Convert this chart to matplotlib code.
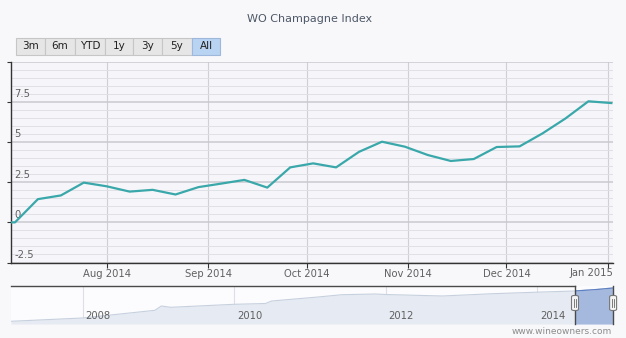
import matplotlib
matplotlib.use('Agg')
import matplotlib.pyplot as plt
import matplotlib.dates as mdates
from matplotlib.patches import FancyBboxPatch, Rectangle
from matplotlib.lines import Line2D
from matplotlib.ticker import MultipleLocator, FixedLocator
from matplotlib.transforms import blended_transform_factory, offset_copy
import pandas as pd

W, H = 626, 338

title = 'WO Champagne Index'
buttons = ['3m', '6m', 'YTD', '1y', '3y', '5y', 'All']
selected_button = 'All'

# weekly index (% change), Fridays from end of June 2014
week_dates = pd.date_range('2014-06-27', periods=28, freq='7D')
index_values = [0.0, 0.0, 1.45, 1.68, 2.48, 2.25, 1.92, 2.03, 1.74, 2.2,
                2.42, 2.65, 2.17, 3.43, 3.68, 3.43, 4.4, 5.03, 4.72, 4.2,
                3.83, 3.95, 4.7, 4.74, 5.55, 6.48, 7.55, 7.44]
y_ticks = [-2.5, 0, 2.5, 5, 7.5, 10]
y_labels = ['-2.5', '0', '2.5', '5', '7.5', '']
month_ticks = pd.to_datetime(['2014-08-01', '2014-09-01', '2014-10-01',
                              '2014-11-01', '2014-12-01', '2015-01-01'])
month_labels = ['Aug 2014', 'Sep 2014', 'Oct 2014', 'Nov 2014', 'Dec 2014',
                'Jan 2015']

# full history shown in the navigator
nav_dates = pd.to_datetime(['2007-01-20', '2008-01-01', '2008-12-15', '2009-01-15',
                            '2009-03-01', '2010-01-01', '2010-06-01', '2010-07-01',
                            '2011-02-10', '2011-06-05', '2011-11-15', '2012-01-01',
                            '2012-10-01', '2013-06-01', '2014-01-25', '2014-07-01',
                            '2014-10-15', '2015-01-02'])
nav_values = [2.7, 6.0, 13.7, 18.0, 16.7, 19.7, 20.5, 23.0, 27.0, 29.3, 30.0,
              29.5, 28.0, 30.3, 32.0, 33.0, 34.5, 36.0]
nav_years = ['2008', '2010', '2012', '2014']

view_start = pd.Timestamp('2014-07-02 19:00')
view_end = pd.Timestamp('2015-01-02 12:00')

line_color = '#3aa8aa'
text_color = '#606060'


def px_box(x0, y0, x1, y1):
    # pixel box (top-left origin) -> figure fraction [l, b, w, h]
    return [x0 / W, (H - y1) / H, (x1 - x0) / W, (y1 - y0) / H]


fig = plt.figure(figsize=(W / 100, H / 100), dpi=100, facecolor='#f8f8fb')

fig.text(310 / W, 1 - 19 / H, title, ha='center', va='center',
         fontsize=8, color='#4d5866')

# range selector buttons
bx = [16, 45, 75, 105, 133, 162, 192, 220]
for i, lab in enumerate(buttons):
    sel = lab == selected_button
    l, b, w, h = px_box(bx[i], 37.5, bx[i + 1], 55)
    fig.patches.append(Rectangle((l, b), w, h, transform=fig.transFigure,
                                 facecolor='#b9d3f2' if sel else '#e6e6e6',
                                 edgecolor='#9db8da' if sel else '#c6c6c6',
                                 lw=0.8))
    fig.text(l + w / 2, b + h / 2, lab, ha='center', va='center',
             fontsize=7.5, color='#222222')

# main chart
ax = fig.add_axes(px_box(11, 62, 613, 262.5), facecolor='#f6f6fa')
ax.plot(week_dates, index_values, color=line_color, lw=1.6,
        solid_joinstyle='round', zorder=5)
ax.set_xlim(view_start, view_end)
ax.set_ylim(-2.5, 10)

# last month label is pulled inside the plot edge
ax.set_xticks(month_ticks, month_labels[:-1] + [''])
ax.annotate(month_labels[-1], (month_ticks[-1], 0),
            xycoords=('data', 'axes fraction'), xytext=(3.8, -7.2),
            textcoords='offset points', ha='right', va='center',
            fontsize=7.2, color=text_color)
ax.yaxis.set_major_locator(FixedLocator(y_ticks))
ax.yaxis.set_minor_locator(MultipleLocator(0.5))

ax.grid(axis='y', which='minor', color='#e0e0e7', lw=0.7)
ax.grid(axis='y', which='major', color='#c9c9cf', lw=1.1)
ax.grid(axis='x', which='major', color='#d0d0d4', lw=0.8)
ax.set_axisbelow(True)

for s in ['top', 'right']:
    ax.spines[s].set_visible(False)
for s in ['left', 'bottom']:
    ax.spines[s].set_color('#333333')
    ax.spines[s].set_linewidth(1.0)

ax.tick_params(axis='x', which='major', length=3.6, color='#333333',
               labelsize=7.2, labelcolor=text_color, pad=1)
ax.tick_params(axis='y', which='major', length=3, color='#333333', labelleft=False)
ax.tick_params(axis='both', which='minor', length=0)

# y labels sit inside the plot, just above their grid line
ylab_tr = offset_copy(blended_transform_factory(ax.transAxes, ax.transData),
                      fig=fig, x=2.5, y=2, units='points')
for v, lab in zip(y_ticks, y_labels):
    ax.text(0, v, lab, transform=ylab_tr, ha='left', va='bottom',
            fontsize=7.2, color=text_color)

# navigator
nav = fig.add_axes(px_box(10.8, 286, 613, 324), facecolor='#fcfcfe')
nav.set_xlim(pd.Timestamp('2007-01-20'), pd.Timestamp('2015-01-02'))
nav.set_ylim(0, 38)
nav.fill_between(nav_dates, nav_values, 0, color='#e6eaf2', lw=0)
nav.plot(nav_dates, nav_values, color='#c6d0de', lw=0.8)

clip = Rectangle((mdates.date2num(view_start), 0),
                 mdates.date2num(view_end) - mdates.date2num(view_start), 100,
                 transform=nav.transData)
sel_fill = nav.fill_between(nav_dates, nav_values, 0, color='#a5b9df', lw=0)
sel_fill.set_clip_path(clip)
sel_line, = nav.plot(nav_dates, nav_values, color='#5f81c2', lw=0.9)
sel_line.set_clip_path(clip)

nav.set_xticks([])
nav.set_yticks([])
for s in nav.spines.values():
    s.set_visible(False)

for yr in nav_years:
    d = pd.Timestamp(yr + '-01-01')
    nav.axvline(d, color='#dedee6', lw=0.8, zorder=0)
    nav.annotate(yr, (d, 0.21), xycoords=('data', 'axes fraction'),
                 xytext=(2, 0), textcoords='offset points', ha='left',
                 va='center', fontsize=7.2, color=text_color)

# navigator outline and handles
top_tr = blended_transform_factory(nav.transData, nav.transAxes)
nav.add_line(Line2D([nav.get_xlim()[0], mdates.date2num(view_start)], [1, 1],
                    transform=top_tr, color='#4a4a4a', lw=1.0, clip_on=False))
for d in [view_start, view_end]:
    nav.add_line(Line2D([mdates.date2num(d)] * 2, [0, 1], transform=top_tr,
                        color='#4a4a4a', lw=1.0, clip_on=False))
    xd = nav.transData.transform((mdates.date2num(d), 0))[0]
    cx = xd / W
    hw, hh = 7 / W, 15 / H
    cy = 1 - 303 / H
    fig.patches.append(FancyBboxPatch((cx - hw / 2, cy - hh / 2), hw, hh,
                                      boxstyle='round,pad=0,rounding_size=0.004',
                                      transform=fig.transFigure,
                                      facecolor='#f4f4f4', edgecolor='#777777',
                                      lw=0.8, zorder=10))
    for dx in (-1.2, 1.2):
        fig.lines.append(Line2D([cx + dx / W] * 2, [cy - 4 / H, cy + 4 / H],
                                transform=fig.transFigure, color='#666666',
                                lw=0.6, zorder=11))

fig.text(612 / W, 1 - 331 / H, 'www.wineowners.com', ha='right', va='center',
         fontsize=6.5, color='#8c8c8c')

fig.savefig('out.png', dpi=100, facecolor=fig.get_facecolor())
